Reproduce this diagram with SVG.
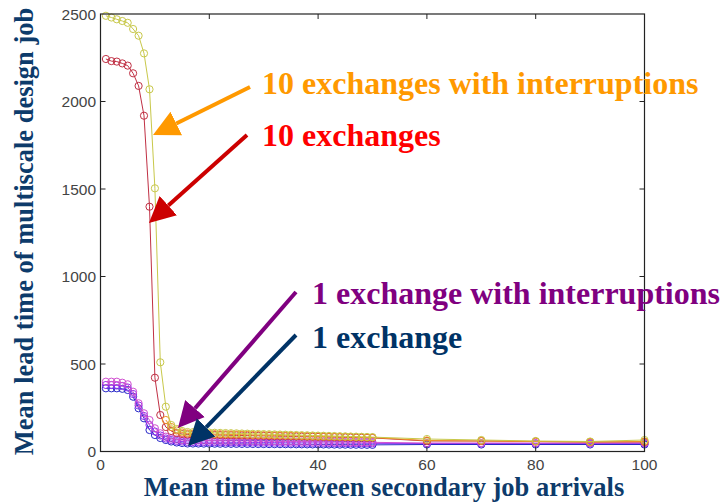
<svg xmlns="http://www.w3.org/2000/svg" width="721" height="504" viewBox="0 0 721 504">
<style>
.tick{stroke:#222;stroke-width:1}
.tl{font-family:"Liberation Sans",Arial,sans-serif;font-size:15.5px;fill:#444}
.ttl{font-family:"Liberation Serif","Times New Roman",serif;font-size:26.5px;font-weight:bold;fill:#0d3b6b}
.lbl{font-family:"Liberation Serif","Times New Roman",serif;font-size:32px;font-weight:bold}
.s{fill:none;stroke-width:1}
.arr{fill:none;stroke-width:4}
</style>
<defs>
<marker id="mY" markerUnits="userSpaceOnUse" markerWidth="10" markerHeight="10" viewBox="-5 -5 10 10" refX="0" refY="0"><circle r="3.6" fill="none" stroke="#c8c84a" stroke-width="1"/></marker>
<marker id="mO" markerUnits="userSpaceOnUse" markerWidth="10" markerHeight="10" viewBox="-5 -5 10 10" refX="0" refY="0"><circle r="3.6" fill="none" stroke="#f09020" stroke-width="1"/></marker>
<marker id="mR" markerUnits="userSpaceOnUse" markerWidth="10" markerHeight="10" viewBox="-5 -5 10 10" refX="0" refY="0"><circle r="3.6" fill="none" stroke="#c03044" stroke-width="1"/></marker>
<marker id="mM" markerUnits="userSpaceOnUse" markerWidth="10" markerHeight="10" viewBox="-5 -5 10 10" refX="0" refY="0"><circle r="3.6" fill="none" stroke="#d050d0" stroke-width="1"/></marker>
<marker id="mV" markerUnits="userSpaceOnUse" markerWidth="10" markerHeight="10" viewBox="-5 -5 10 10" refX="0" refY="0"><circle r="3.6" fill="none" stroke="#9030f0" stroke-width="1"/></marker>
<marker id="mB" markerUnits="userSpaceOnUse" markerWidth="10" markerHeight="10" viewBox="-5 -5 10 10" refX="0" refY="0"><circle r="3.6" fill="none" stroke="#2828c8" stroke-width="1"/></marker>
<marker id="hOr" markerUnits="userSpaceOnUse" markerWidth="30" markerHeight="30" viewBox="0 -15 30 30" refX="0" refY="0" orient="auto"><path d="M0,-13 L26,0 L0,13 Z" fill="#ff9900"/></marker>
<marker id="hRd" markerUnits="userSpaceOnUse" markerWidth="30" markerHeight="30" viewBox="0 -15 30 30" refX="0" refY="0" orient="auto"><path d="M0,-13 L26,0 L0,13 Z" fill="#cc0000"/></marker>
<marker id="hPu" markerUnits="userSpaceOnUse" markerWidth="30" markerHeight="30" viewBox="0 -15 30 30" refX="0" refY="0" orient="auto"><path d="M0,-13 L26,0 L0,13 Z" fill="#800080"/></marker>
<marker id="hNv" markerUnits="userSpaceOnUse" markerWidth="30" markerHeight="30" viewBox="0 -15 30 30" refX="0" refY="0" orient="auto"><path d="M0,-13 L26,0 L0,13 Z" fill="#003366"/></marker>
</defs>
<rect x="0" y="0" width="721" height="504" fill="#ffffff"/>

<g id="series">
<path class="s" stroke="#2828c8" marker-start="url(#mB)" marker-mid="url(#mB)" marker-end="url(#mB)" d="M105.9,388.3 L111.4,388.3 L116.8,388.3 L122.3,388.8 L127.7,390 L133.1,396.7 L138.6,408.3 L144,418.3 L149.5,430 L154.9,435 L160.3,438 L165.8,440 L171.2,441.5 L176.7,442.5 L182.1,443 L187.5,443.5 l5.44,0.04 l5.44,0.04 l5.44,0.04 l5.44,0.04 l5.44,0.04 l5.44,0.04 l5.44,0.04 l5.44,0.04 l5.44,0.04 l5.44,0.04 l5.44,0.04 l5.44,0.04 l5.44,0.04 l5.44,0.04 l5.44,0.04 l5.44,0.04 l5.44,0.04 l5.44,0.04 l5.44,0.04 l5.44,0.04 l5.44,0.04 l5.44,0.04 l5.44,0.04 l5.44,0.04 l5.44,0.04 l5.44,0.04 l5.44,0.04 l5.44,0.04 l5.44,0.04 l5.44,0.04 l5.44,0.04 l5.44,0.04 l5.44,0.04 l5.44,0.04 L426.9,444.5 L481.3,444.5 L535.7,444.5 L590.1,444.5 L644.5,444.5"/>
<path class="s" stroke="#9030f0" marker-start="url(#mV)" marker-mid="url(#mV)" marker-end="url(#mV)" d="M105.9,385 L111.4,385 L116.8,385.5 L122.3,386 L127.7,387.5 L133.1,394 L138.6,405.5 L144,416 L149.5,425 L154.9,431.5 L160.3,435.5 L165.8,438.5 L171.2,440 L176.7,441 L182.1,441.5 L187.5,442 l5.44,0.04 l5.44,0.04 l5.44,0.04 l5.44,0.04 l5.44,0.04 l5.44,0.04 l5.44,0.04 l5.44,0.04 l5.44,0.04 l5.44,0.04 l5.44,0.04 l5.44,0.04 l5.44,0.04 l5.44,0.04 l5.44,0.04 l5.44,0.04 l5.44,0.04 l5.44,0.04 l5.44,0.04 l5.44,0.04 l5.44,0.04 l5.44,0.04 l5.44,0.04 l5.44,0.04 l5.44,0.04 l5.44,0.04 l5.44,0.04 l5.44,0.04 l5.44,0.04 l5.44,0.04 l5.44,0.04 l5.44,0.04 l5.44,0.04 l5.44,0.04 L426.9,443.5 L481.3,443.5 L535.7,443.5 L590.1,443.5 L644.5,443.5"/>
<path class="s" stroke="#d050d0" marker-start="url(#mM)" marker-mid="url(#mM)" marker-end="url(#mM)" d="M105.9,381.7 L111.4,381.7 L116.8,381.7 L122.3,382.7 L127.7,384.3 L133.1,391.7 L138.6,403.3 L144,413.3 L149.5,420 L154.9,428.3 L160.3,433.3 L165.8,436.7 L171.2,438.5 L176.7,439.5 L182.1,440 L187.5,440.3 l5.44,0.06 l5.44,0.06 l5.44,0.06 l5.44,0.06 l5.44,0.06 l5.44,0.06 l5.44,0.06 l5.44,0.06 l5.44,0.06 l5.44,0.06 l5.44,0.06 l5.44,0.06 l5.44,0.06 l5.44,0.06 l5.44,0.06 l5.44,0.06 l5.44,0.06 l5.44,0.06 l5.44,0.06 l5.44,0.06 l5.44,0.06 l5.44,0.06 l5.44,0.06 l5.44,0.06 l5.44,0.06 l5.44,0.06 l5.44,0.06 l5.44,0.06 l5.44,0.06 l5.44,0.06 l5.44,0.06 l5.44,0.06 l5.44,0.06 l5.44,0.06 L426.9,443 L481.3,443 L535.7,443 L590.1,443 L644.5,443"/>
<path class="s" stroke="#c03044" marker-start="url(#mR)" marker-mid="url(#mR)" marker-end="url(#mR)" d="M105.9,59 L111.4,61.1 L116.8,61.6 L122.3,63.4 L127.7,65.6 L133.1,73.3 L138.6,85.9 L144,115.7 L149.5,206.7 L154.9,377.7 L160.3,415 L165.8,427 L171.2,431 L176.7,433 L182.1,434 L187.5,434.5 l5.44,0.1 l5.44,0.1 l5.44,0.1 l5.44,0.1 l5.44,0.1 l5.44,0.1 l5.44,0.1 l5.44,0.1 l5.44,0.1 l5.44,0.1 l5.44,0.1 l5.44,0.1 l5.44,0.1 l5.44,0.1 l5.44,0.1 l5.44,0.1 l5.44,0.1 l5.44,0.1 l5.44,0.1 l5.44,0.1 l5.44,0.1 l5.44,0.1 l5.44,0.1 l5.44,0.1 l5.44,0.1 l5.44,0.1 l5.44,0.1 l5.44,0.1 l5.44,0.1 l5.44,0.1 l5.44,0.1 l5.44,0.1 l5.44,0.1 l5.44,0.1 L426.9,441 L481.3,441 L535.7,441.5 L590.1,442 L644.5,442"/>
<path class="s" stroke="#f09020" marker-start="url(#mO)" marker-mid="url(#mO)" marker-end="url(#mO)" d="M165.8,420 L171.2,427 L176.7,430.5 L182.1,432.5 L187.5,433.5 l5.44,0.12 l5.44,0.12 l5.44,0.12 l5.44,0.12 l5.44,0.12 l5.44,0.12 l5.44,0.12 l5.44,0.12 l5.44,0.12 l5.44,0.12 l5.44,0.12 l5.44,0.12 l5.44,0.12 l5.44,0.12 l5.44,0.12 l5.44,0.12 l5.44,0.12 l5.44,0.12 l5.44,0.12 l5.44,0.12 l5.44,0.12 l5.44,0.12 l5.44,0.12 l5.44,0.12 l5.44,0.12 l5.44,0.12 l5.44,0.12 l5.44,0.12 l5.44,0.12 l5.44,0.12 l5.44,0.12 l5.44,0.12 l5.44,0.12 l5.44,0.12 L426.9,440.5 L481.3,441 L535.7,441.5 L590.1,442 L644.5,441.5"/>
<path class="s" stroke="#c8c84a" marker-start="url(#mY)" marker-mid="url(#mY)" marker-end="url(#mY)" d="M105.9,15.8 L111.4,17.5 L116.8,19.3 L122.3,21 L127.7,22.8 L133.1,29 L138.6,35.7 L144,53.4 L149.5,89.3 L154.9,188.3 L160.3,362.3 L165.8,406.7 L171.2,425 L176.7,429 L182.1,431 L187.5,432 l5.44,0.15 l5.44,0.15 l5.44,0.15 l5.44,0.15 l5.44,0.15 l5.44,0.15 l5.44,0.15 l5.44,0.15 l5.44,0.15 l5.44,0.15 l5.44,0.15 l5.44,0.15 l5.44,0.15 l5.44,0.15 l5.44,0.15 l5.44,0.15 l5.44,0.15 l5.44,0.15 l5.44,0.15 l5.44,0.15 l5.44,0.15 l5.44,0.15 l5.44,0.15 l5.44,0.15 l5.44,0.15 l5.44,0.15 l5.44,0.15 l5.44,0.15 l5.44,0.15 l5.44,0.15 l5.44,0.15 l5.44,0.15 l5.44,0.15 l5.44,0.15 L426.9,439 L481.3,440 L535.7,441 L590.1,441.5 L644.5,440"/>
</g>

<g id="axes">
<rect x="100.5" y="14" width="544" height="437.5" fill="none" stroke="#222" stroke-width="1.2"/>
<path class="tick" d="M100.5,101.5 h5 M100.5,189 h5 M100.5,276.5 h5 M100.5,364 h5 M644.5,101.5 h-5 M644.5,189 h-5 M644.5,276.5 h-5 M644.5,364 h-5 M209.3,451.5 v-5 M318.1,451.5 v-5 M426.9,451.5 v-5 M535.7,451.5 v-5 M209.3,14 v5 M318.1,14 v5 M426.9,14 v5 M535.7,14 v5"/>
<text class="tl" x="96" y="19.5" text-anchor="end">2500</text>
<text class="tl" x="96" y="107" text-anchor="end">2000</text>
<text class="tl" x="96" y="194.5" text-anchor="end">1500</text>
<text class="tl" x="96" y="282" text-anchor="end">1000</text>
<text class="tl" x="96" y="369.5" text-anchor="end">500</text>
<text class="tl" x="96" y="457" text-anchor="end">0</text>
<text class="tl" x="100.5" y="470" text-anchor="middle">0</text>
<text class="tl" x="209.3" y="470" text-anchor="middle">20</text>
<text class="tl" x="318.1" y="470" text-anchor="middle">40</text>
<text class="tl" x="426.9" y="470" text-anchor="middle">60</text>
<text class="tl" x="535.7" y="470" text-anchor="middle">80</text>
<text class="tl" x="644.5" y="470" text-anchor="middle">100</text>
<text class="ttl" x="384" y="496" text-anchor="middle">Mean time between secondary job arrivals</text>
<text class="ttl" transform="translate(33,231.5) rotate(-90)" text-anchor="middle">Mean lead time of multiscale design job</text>
</g>

<g id="label-10-int"><text class="lbl" x="262" y="94" fill="#ff9900">10 exchanges with interruptions</text></g>
<g id="label-10"><text class="lbl" x="262" y="145.5" fill="#ff0000">10 exchanges</text></g>
<g id="label-1-int"><text class="lbl" x="312" y="304" fill="#800080">1 exchange with interruptions</text></g>
<g id="label-1"><text class="lbl" x="312" y="348" fill="#003366">1 exchange</text></g>

<g id="connectors">
<line class="arr" stroke="#ff9900" x1="250" y1="87" x2="176.3" y2="123.5" marker-end="url(#hOr)"/>
<line class="arr" stroke="#cc0000" x1="247" y1="135" x2="168.3" y2="205.6" marker-end="url(#hRd)"/>
<line class="arr" stroke="#800080" x1="296" y1="292" x2="195" y2="408.4" marker-end="url(#hPu)"/>
<line class="arr" stroke="#003366" x1="296" y1="335" x2="206.1" y2="427.4" marker-end="url(#hNv)"/>
</g>
</svg>
